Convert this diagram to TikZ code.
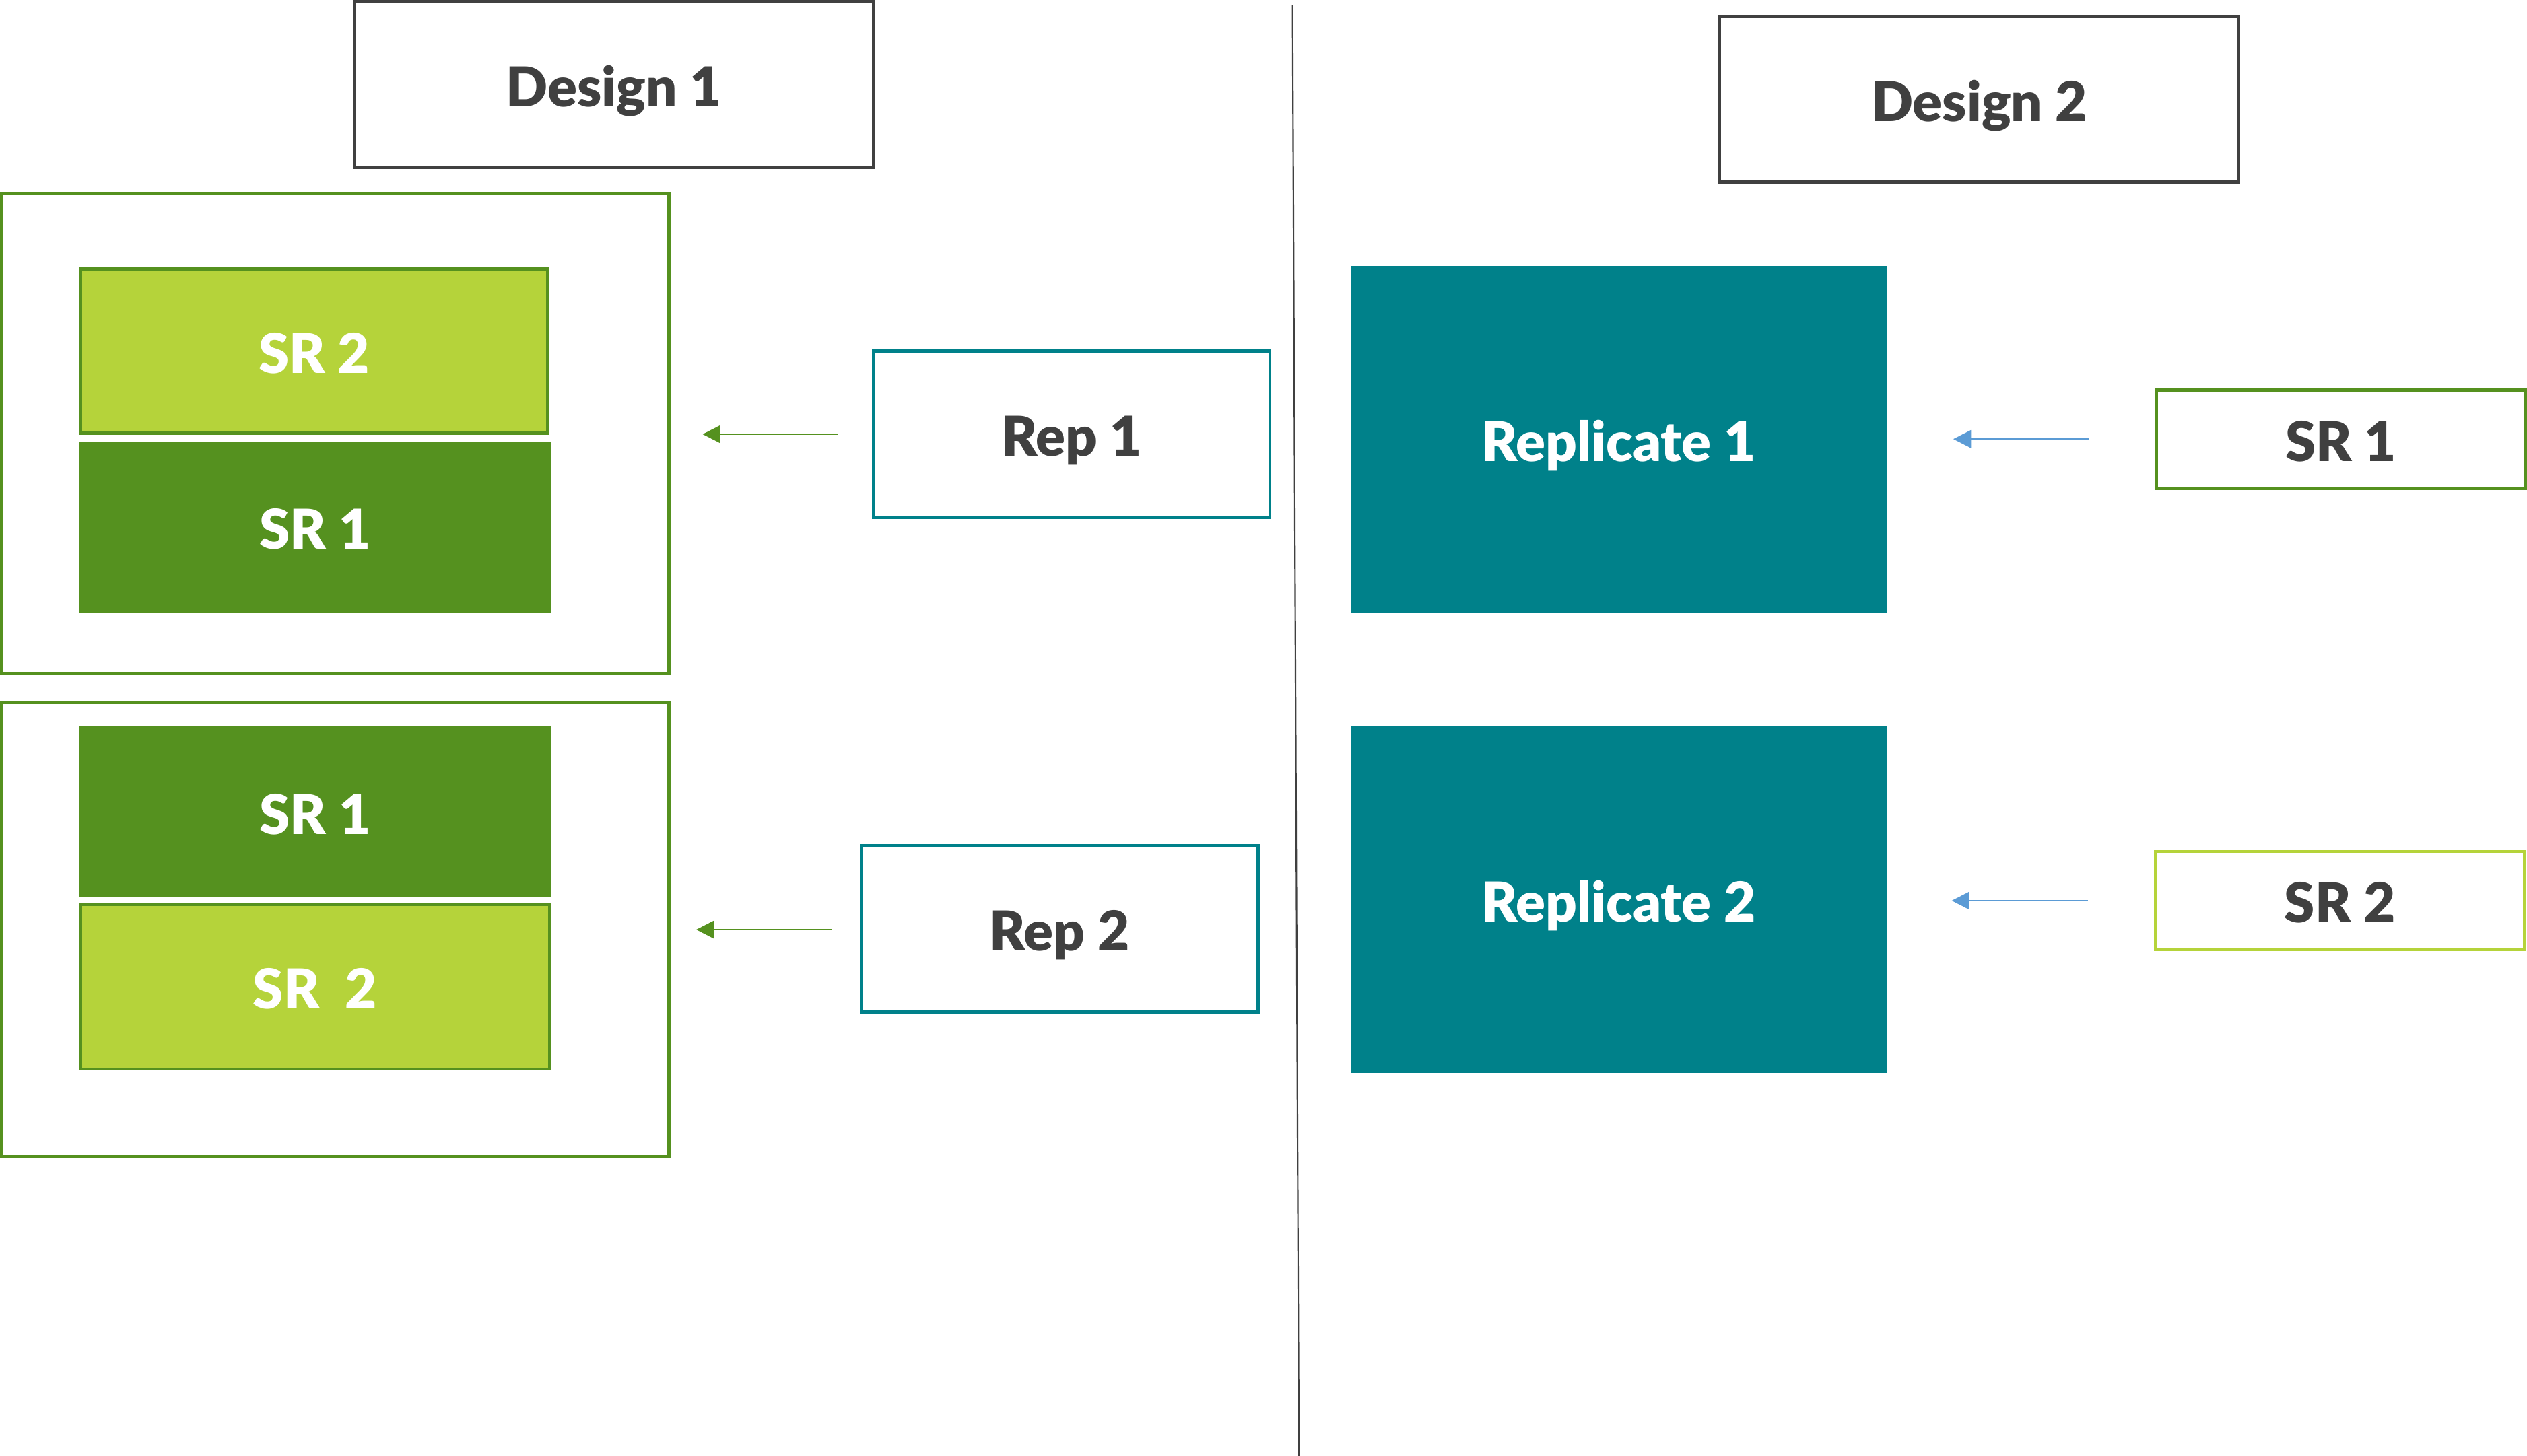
\documentclass[tikz,border=0pt]{standalone}
\usepackage{fontspec}
\setmainfont{Lato}[BoldFont={Lato Black}]
\usetikzlibrary{arrows.meta}
\definecolor{dgreen}{HTML}{55911F}
\definecolor{lgreen}{HTML}{B5D33A}
\definecolor{teal2}{HTML}{00818A}
\definecolor{dgray}{HTML}{404040}
\definecolor{blue2}{HTML}{5B9BD5}
\begin{document}
\begin{tikzpicture}[x=0.5mm,y=-0.5mm,
  lbl/.style={font=\fontsize{48.5}{58}\selectfont\bfseries,text height=39pt,text depth=0pt},
  box/.style={rectangle,inner sep=0pt,line width=1mm,lbl},
  titlebox/.style={box,draw=dgray,text=dgray,minimum width=161mm,minimum height=51.5mm},
  outerbox/.style={box,draw=dgreen,minimum width=207mm},
  srlight/.style={box,draw=dgreen,fill=lgreen,text=white,minimum width=145mm,minimum height=51mm},
  srdark/.style={box,draw=dgreen,fill=dgreen,text=white,minimum width=145.5mm,minimum height=52mm},
  repbox/.style={box,draw=teal2,text=dgray,minimum width=123mm,minimum height=51.5mm},
  replbox/.style={box,draw=teal2,fill=teal2,text=white,minimum width=165.5mm,minimum height=106.5mm},
  srside/.style={box,text=dgray,minimum width=114.5mm,minimum height=30.5mm},
  garrow/.style={draw=dgreen,line width=0.45mm,-{Triangle[length=5.5mm,width=5.5mm]}},
  barrow/.style={draw=blue2,line width=0.45mm,-{Triangle[length=5.5mm,width=5.5mm]}}
]
\useasboundingbox (0,0) rectangle (1568,903.7);
% left side
\node[titlebox] (design1) at (381,52.5) {Design 1};
\node[outerbox,minimum height=149mm] (outer1) at (208,269) {};
\node[srlight] (sr2a) at (195,218) {SR 2};
\node[srdark] (sr1a) at (195.5,327) {SR 1};
\node[repbox] (rep1) at (665,269.5) {Rep 1};
\node[outerbox,minimum height=141mm] (outer2) at (208,577) {};
\node[srdark] (sr1b) at (195.5,504) {SR 1};
\node[srlight,minimum width=145.5mm] (sr2b) at (195.5,612.5) {SR\ \ 2};
\node[repbox] (rep2) at (657.5,576.5) {Rep 2};
\draw[garrow,shorten <=10.5mm,shorten >=10mm] (rep1.west) -- (rep1.west -| outer1.east);
\draw[garrow,shorten <=8.5mm,shorten >=8mm] (rep2.west |- outer2.east) -- (outer2.east);
% divider
\coordinate (divtop) at (802,3);
\coordinate (divbot) at (806,904);
\draw[dgray,line width=0.45mm] (divtop) -- (divbot);
% right side
\node[titlebox] (design2) at (1228,61.5) {Design 2};
\node[replbox] (repl1) at (1004.5,272.5) {Replicate 1};
\node[replbox] (repl2) at (1004.5,558.5) {Replicate 2};
\node[srside,draw=dgreen] (srr1) at (1452.5,272.5) {SR 1};
\node[srside,draw=lgreen] (srr2) at (1452,559) {SR 2};
\draw[barrow,shorten <=20.5mm,shorten >=20.5mm] (srr1.west) -- (srr1.west -| repl1.east);
\draw[barrow,shorten <=20.5mm,shorten >=20mm] (srr2.west) -- (srr2.west -| repl2.east);
\end{tikzpicture}
\end{document}
